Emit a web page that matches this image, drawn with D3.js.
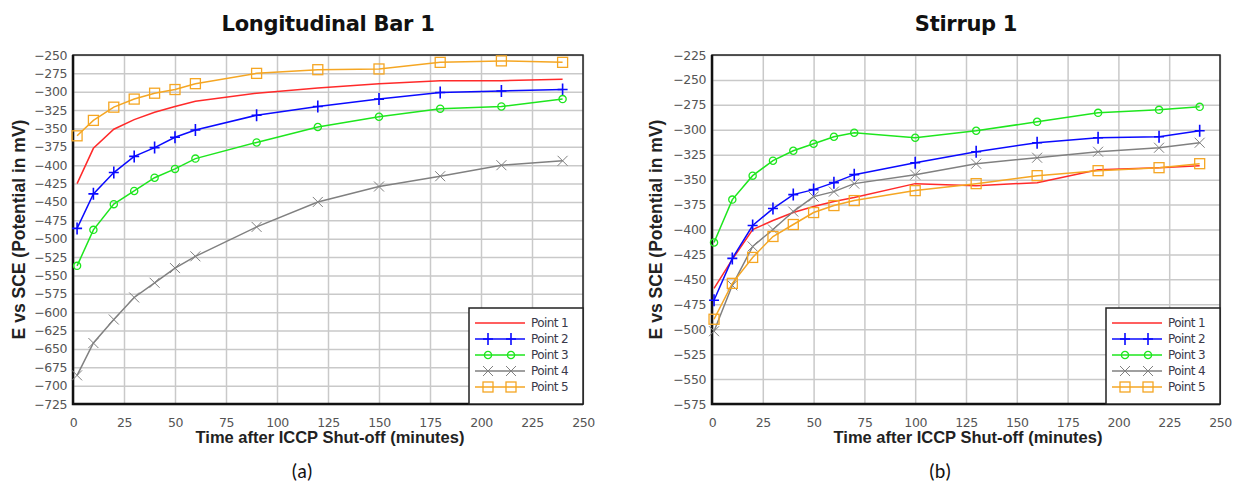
<!DOCTYPE html>
<html>
<head>
<meta charset="utf-8">
<script src="https://cdnjs.cloudflare.com/ajax/libs/d3/7.8.5/d3.min.js"></script>
<style>
  body { margin: 0; background: white; }
  svg { display: block; }
</style>
</head>
<body>
<div id="chart"></div>
<script>
// values (mV vs SCE)
var seriesNames = ["Point 1", "Point 2", "Point 3", "Point 4", "Point 5"];
var seriesColors = ["#ff2a2a", "#0a0aff", "#1ee61e", "#808080", "#f5a623"];
var seriesMarkers = ["none", "plus", "circle", "cross", "square"];

var timeA = [2, 10, 20, 30, 40, 50, 60, 90, 120, 150, 180, 210, 240];
var barP1 = [-425, -377, -351, -338, -328, -320, -313, -302, -295, -289, -285, -285, -283];
var barP2 = [-486, -439, -410, -388, -376, -362, -352, -332, -320, -310, -301, -299, -297];
var barP3 = [-537, -488, -453, -435, -417, -405, -391, -369, -348, -334, -323, -320, -310];
var barP4 = [-686, -642, -610, -580, -560, -540, -524, -484, -450, -429, -415, -400, -394];
var barP5 = [-360, -339, -321, -310, -302, -297, -289, -275, -270, -269, -260, -258, -260];

var timeB = [1, 10, 20, 30, 40, 50, 60, 70, 100, 130, 160, 190, 220, 240];
var stirP1 = [-459, -430, -400, -391, -383, -377, -372, -368, -354, -356, -353, -340, -338, -336];
var stirP2 = [-471, -429, -396, -379, -365, -360, -353, -345, -333, -322, -313, -308, -307, -301];
var stirP3 = [-413, -370, -346, -331, -321, -314, -307, -303, -308, -301, -292, -283, -280, -277];
var stirP4 = [-502, -456, -417, -400, -382, -367, -362, -354, -345, -334, -328, -322, -318, -313];
var stirP5 = [-490, -454, -428, -407, -395, -383, -376, -371, -361, -354, -346, -341, -338, -334];

var xTicks = [0, 25, 50, 75, 100, 125, 150, 175, 200, 225, 250];
var yTicksA = d3.range(-250, -726, -25);
var yTicksB = d3.range(-225, -576, -25);

var W = 1240, H = 494;

var svg = d3.select("#chart")
    .append("svg")
    .attr("width", W)
    .attr("height", H);

function drawMarker(g, type, color) {
    if (type == "plus") {
        g.append("path").attr("d", "M-5,0H5M0,-6V6")
            .attr("stroke", color).attr("stroke-width", 1.6).attr("fill", "none");
    } else if (type == "circle") {
        g.append("circle").attr("r", 3.6)
            .attr("stroke", color).attr("stroke-width", 1.3).attr("fill", "none");
    } else if (type == "cross") {
        g.append("path").attr("d", "M-5,-5L5,5M-5,5L5,-5")
            .attr("stroke", color).attr("stroke-width", 1).attr("fill", "none");
    } else if (type == "square") {
        g.append("rect").attr("x", -5).attr("y", -5).attr("width", 10).attr("height", 10)
            .attr("stroke", color).attr("stroke-width", 1.3).attr("fill", "none");
    }
}

function styleTicks(s) {
    s.select(".domain").remove();
    s.attr("font-family", "DejaVu Sans, Verdana, sans-serif").attr("font-size", 12.5);
    s.selectAll("text").attr("fill", "#555").attr("letter-spacing", -0.4);
}

function drawChart(opt) {
    var x = d3.scaleLinear().domain([0, 250]).range([opt.left, opt.right]);
    var y = d3.scaleLinear().domain([opt.yTicks[0], opt.yTicks[opt.yTicks.length - 1]])
        .range([opt.top, opt.bottom]);

    var g = svg.append("g");

    // grid
    g.append("g")
        .attr("transform", "translate(0," + opt.bottom + ")")
        .call(d3.axisBottom(x).tickValues(xTicks).tickSize(-(opt.bottom - opt.top)).tickFormat(""))
        .call(function(s) { s.select(".domain").remove(); })
        .selectAll("line").attr("stroke", "#c9c9c9").attr("stroke-width", 1.5);

    g.append("g")
        .attr("transform", "translate(" + opt.left + ",0)")
        .call(d3.axisLeft(y).tickValues(opt.yTicks).tickSize(-(opt.right - opt.left)).tickFormat(""))
        .call(function(s) { s.select(".domain").remove(); })
        .selectAll("line").attr("stroke", "#c9c9c9").attr("stroke-width", 1.5);

    // tick labels
    g.append("g")
        .attr("transform", "translate(0," + (opt.bottom + 10) + ")")
        .call(d3.axisBottom(x).tickValues(xTicks).tickSize(0).tickPadding(4))
        .call(styleTicks);

    g.append("g")
        .attr("transform", "translate(" + (opt.left - 4) + ",0)")
        .call(d3.axisLeft(y).tickValues(opt.yTicks).tickSize(0).tickPadding(2))
        .call(styleTicks);

    // frame
    g.append("rect")
        .attr("x", opt.left).attr("y", opt.top)
        .attr("width", opt.right - opt.left).attr("height", opt.bottom - opt.top)
        .attr("fill", "none").attr("stroke", "#222").attr("stroke-width", 1.5);
    g.append("path")
        .attr("d", "M" + opt.left + "," + opt.top + "V" + opt.bottom + "H" + opt.right)
        .attr("fill", "none").attr("stroke", "#111").attr("stroke-width", 2.5);

    // lines and markers
    var line = d3.line()
        .x(function(d) { return x(d[0]); })
        .y(function(d) { return y(d[1]); });

    opt.series.forEach(function(vals, i) {
        var pts = opt.time.map(function(t, j) { return [t, vals[j]]; });
        g.append("path")
            .datum(pts)
            .attr("d", line)
            .attr("fill", "none")
            .attr("stroke", seriesColors[i])
            .attr("stroke-width", 1.5);
        if (seriesMarkers[i] != "none") {
            pts.forEach(function(p) {
                var m = g.append("g").attr("transform", "translate(" + x(p[0]) + "," + y(p[1]) + ")");
                drawMarker(m, seriesMarkers[i], seriesColors[i]);
            });
        }
    });

    // legend
    var lx = opt.right - 114, ly = opt.bottom - 96;
    var lg = g.append("g").attr("transform", "translate(" + lx + "," + ly + ")");
    lg.append("rect").attr("width", 114).attr("height", 96)
        .attr("fill", "white").attr("stroke", "#222").attr("stroke-width", 1.5);
    seriesNames.forEach(function(name, i) {
        var yy = 15 + i * 16;
        lg.append("line").attr("x1", 6).attr("x2", 56).attr("y1", yy).attr("y2", yy)
            .attr("stroke", seriesColors[i]).attr("stroke-width", 1.5);
        [19, 42].forEach(function(mx) {
            var m = lg.append("g").attr("transform", "translate(" + mx + "," + yy + ")");
            drawMarker(m, seriesMarkers[i], seriesColors[i]);
        });
        lg.append("text").attr("x", 62).attr("y", yy + 4)
            .attr("font-family", "DejaVu Sans, Verdana, sans-serif")
            .attr("font-size", 12).attr("fill", "#3a3a4a").attr("letter-spacing", -0.6)
            .text(name);
    });

    var cx = (opt.left + opt.right) / 2;
    g.append("text")
        .attr("x", cx).attr("y", 31)
        .attr("text-anchor", "middle")
        .attr("font-family", "DejaVu Sans, Verdana, sans-serif")
        .attr("font-weight", "bold").attr("font-size", 21).attr("fill", "#111")
        .attr("letter-spacing", -0.3)
        .text(opt.title);

    g.append("text")
        .attr("x", cx + 2).attr("y", 443)
        .attr("text-anchor", "middle")
        .attr("font-family", "Liberation Sans, Arial, sans-serif")
        .attr("font-weight", "bold").attr("font-size", 16.5).attr("fill", "#222")
        .text("Time after ICCP  Shut-off (minutes)");

    g.append("text")
        .attr("transform", "translate(" + (opt.left - opt.ylabOff) + "," + ((opt.top + opt.bottom) / 2) + ") rotate(-90)")
        .attr("text-anchor", "middle")
        .attr("font-family", "Liberation Sans, Arial, sans-serif")
        .attr("font-weight", "bold").attr("font-size", 17.5).attr("fill", "#222")
        .text("E vs SCE (Potential in mV)");

    g.append("text")
        .attr("x", opt.capX).attr("y", 478)
        .attr("text-anchor", "middle")
        .attr("font-family", "Carlito, Liberation Sans, Arial, sans-serif")
        .attr("font-size", 20).attr("fill", "#111")
        .text(opt.caption);
}

drawChart({
    title: "Longitudinal Bar 1", caption: "(a)", capX: 302, ylabOff: 48,
    left: 73, right: 583, top: 55, bottom: 404,
    yTicks: yTicksA, time: timeA,
    series: [barP1, barP2, barP3, barP4, barP5]
});

drawChart({
    title: "Stirrup 1", caption: "(b)", capX: 940, ylabOff: 50,
    left: 712, right: 1220, top: 55, bottom: 404,
    yTicks: yTicksB, time: timeB,
    series: [stirP1, stirP2, stirP3, stirP4, stirP5]
});
</script>
</body>
</html>
